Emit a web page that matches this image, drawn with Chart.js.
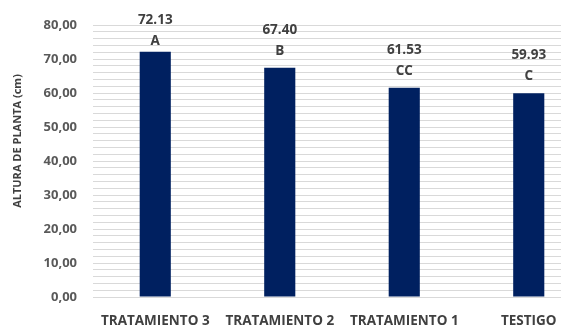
<!DOCTYPE html>
<html>
<head>
<meta charset="utf-8">
<script src="https://cdn.jsdelivr.net/npm/chart.js@4/dist/chart.umd.min.js"></script>
<style>
  html, body { margin: 0; padding: 0; background: #fff; overflow: hidden; }
  #wrap { width: 561px; height: 325px; overflow: hidden; position: relative; }
</style>
</head>
<body>
<div id="wrap"><canvas id="c" width="591" height="325"></canvas></div>
<script>
const categories = ["TRATAMIENTO 3", "TRATAMIENTO 2", "TRATAMIENTO 1", "TESTIGO"];
const alturas = [72.13, 67.40, 61.53, 59.93];
const letras = ["A", "B", "CC", "C"];
const yTitle = "ALTURA DE PLANTA (cm)";

const FONT = "'Open Sans', 'DejaVu Sans', sans-serif";

const labelPlugin = {
  id: 'barLabels',
  afterDatasetsDraw(chart) {
    const ctx = chart.ctx;
    const meta = chart.getDatasetMeta(0);
    ctx.save();
    ctx.fillStyle = '#404040';
    ctx.textAlign = 'center';
    ctx.textBaseline = 'middle';
    ctx.font = 'bold 13.5px ' + FONT;
    meta.data.forEach((bar, i) => {
      const vy = Math.max(20, bar.y - 38);
      ctx.fillText(alturas[i].toFixed(2), bar.x, vy);
      ctx.fillText(letras[i], bar.x, vy + 21);
    });
    ctx.restore();
  }
};

const titlePlugin = {
  id: 'yTitle',
  afterDraw(chart) {
    const ctx = chart.ctx;
    ctx.save();
    ctx.translate(18, 141);
    ctx.rotate(-Math.PI / 2);
    ctx.fillStyle = '#404040';
    ctx.textAlign = 'center';
    ctx.textBaseline = 'middle';
    ctx.font = 'bold 11px ' + FONT;
    ctx.fillText(yTitle, 0, 0);
    ctx.restore();
  }
};

new Chart(document.getElementById('c'), {
  type: 'bar',
  data: {
    labels: categories,
    datasets: [{
      data: alturas,
      backgroundColor: '#002060',
      borderWidth: 0,
      barPercentage: 0.5,
      categoryPercentage: 0.5
    }]
  },
  options: {
    responsive: false,
    animation: false,
    layout: { padding: { top: 25, left: 0, right: 0, bottom: 0 } },
    plugins: { legend: { display: false }, tooltip: { enabled: false } },
    scales: {
      x: {
        grid: { display: false },
        border: { display: false },
        ticks: {
          color: '#404040',
          font: { family: FONT, size: 13.5, weight: 'bold' },
          maxRotation: 0, minRotation: 0, autoSkip: false, padding: 8
        },
        afterFit(scale) { scale.height = 28; }
      },
      y: {
        min: 0, max: 80,
        grid: { color: '#d9d9d9', lineWidth: 1, drawTicks: false },
        border: { display: false },
        ticks: {
          stepSize: 2,
          autoSkip: false,
          padding: 16,
          color: '#595959',
          font: { family: FONT, size: 13, weight: 'bold' },
          callback: (v) => (v % 10 === 0 ? v.toFixed(2).replace('.', ',') : '')
        },
        afterFit(scale) { scale.width = 93; }
      }
    }
  },
  plugins: [labelPlugin, titlePlugin]
});
</script>
</body>
</html>
